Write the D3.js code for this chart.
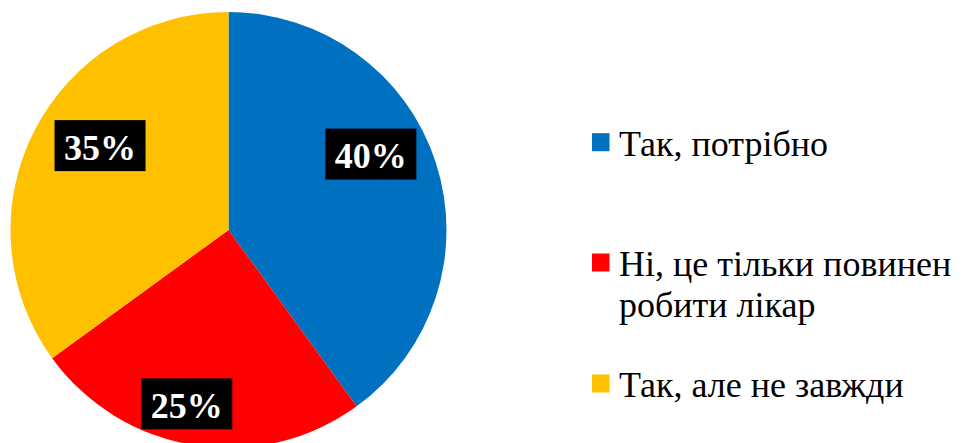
<!DOCTYPE html>
<html>
<head>
<meta charset="utf-8">
<script src="https://cdn.jsdelivr.net/npm/d3@7/dist/d3.min.js"></script>
<style>
  html, body { margin: 0; padding: 0; background: #fff; }
  svg { display: block; }
  .serif { font-family: "Liberation Serif", "Times New Roman", "DejaVu Serif", serif; }
</style>
</head>
<body>
<svg id="chart" width="968" height="443"></svg>
<script>
// Survey answers and their shares (%)
const categories = ["Так, потрібно", "Ні, це тільки повинен робити лікар", "Так, але не завжди"];
const values = [40, 25, 35];
const legendLines = [["Так, потрібно"], ["Ні, це тільки повинен", "робити лікар"], ["Так, але не завжди"]];
const colors = ["#0070C0", "#FF0000", "#FFC000"];

// Where each label sits inside its slice: fraction along the slice angle, fraction of radius
const labelAnchor = [[0.43, 0.74], [0.55, 0.82], [0.55, 0.705]];

const svg = d3.select("#chart");
const cx = 228.5, cy = 230, r = 218;

const pie = d3.pie().sort(null).value(d => d);
const arcs = pie(values);
const arc = d3.arc().innerRadius(0).outerRadius(r);

const g = svg.append("g").attr("transform", `translate(${cx},${cy})`);

g.selectAll("path.slice")
  .data(arcs)
  .join("path")
  .attr("class", "slice")
  .attr("d", arc)
  .attr("fill", (d, i) => colors[i]);

// Value labels: white bold text on black boxes
const fmt = v => v + "%";
const labels = g.selectAll("g.lbl")
  .data(arcs)
  .join("g")
  .attr("class", "lbl")
  .attr("transform", (d, i) => {
    const [fa, fr] = labelAnchor[i];
    const a = d.startAngle + (d.endAngle - d.startAngle) * fa;
    const rr = r * fr;
    return `translate(${rr * Math.sin(a)},${-rr * Math.cos(a)})`;
  });

labels.append("rect")
  .attr("x", -45.5).attr("y", -25.5)
  .attr("width", 91).attr("height", 51)
  .attr("fill", "#000");

labels.append("text")
  .attr("class", "serif")
  .attr("text-anchor", "middle")
  .attr("y", 14)
  .attr("font-weight", "bold")
  .attr("font-size", 36)
  .attr("fill", "#fff")
  .text(d => fmt(d.data));

// Legend
const legendTop = [155.7, 276, 397];
const lineGap = 41;
const legend = svg.append("g");
const items = legend.selectAll("g.item")
  .data(categories)
  .join("g")
  .attr("class", "item")
  .attr("transform", (d, i) => `translate(592,${legendTop[i]})`);

items.append("rect")
  .attr("x", 0).attr("y", -22.5)
  .attr("width", 17.5).attr("height", 18)
  .attr("fill", (d, i) => colors[i]);

items.append("text")
  .attr("class", "serif")
  .attr("x", 27)
  .attr("font-size", 36)
  .attr("fill", "#000")
  .selectAll("tspan")
  .data((d, i) => legendLines[i])
  .join("tspan")
  .attr("x", 27)
  .attr("dy", (d, j) => j === 0 ? 0 : lineGap)
  .text(d => d);
</script>
</body>
</html>
